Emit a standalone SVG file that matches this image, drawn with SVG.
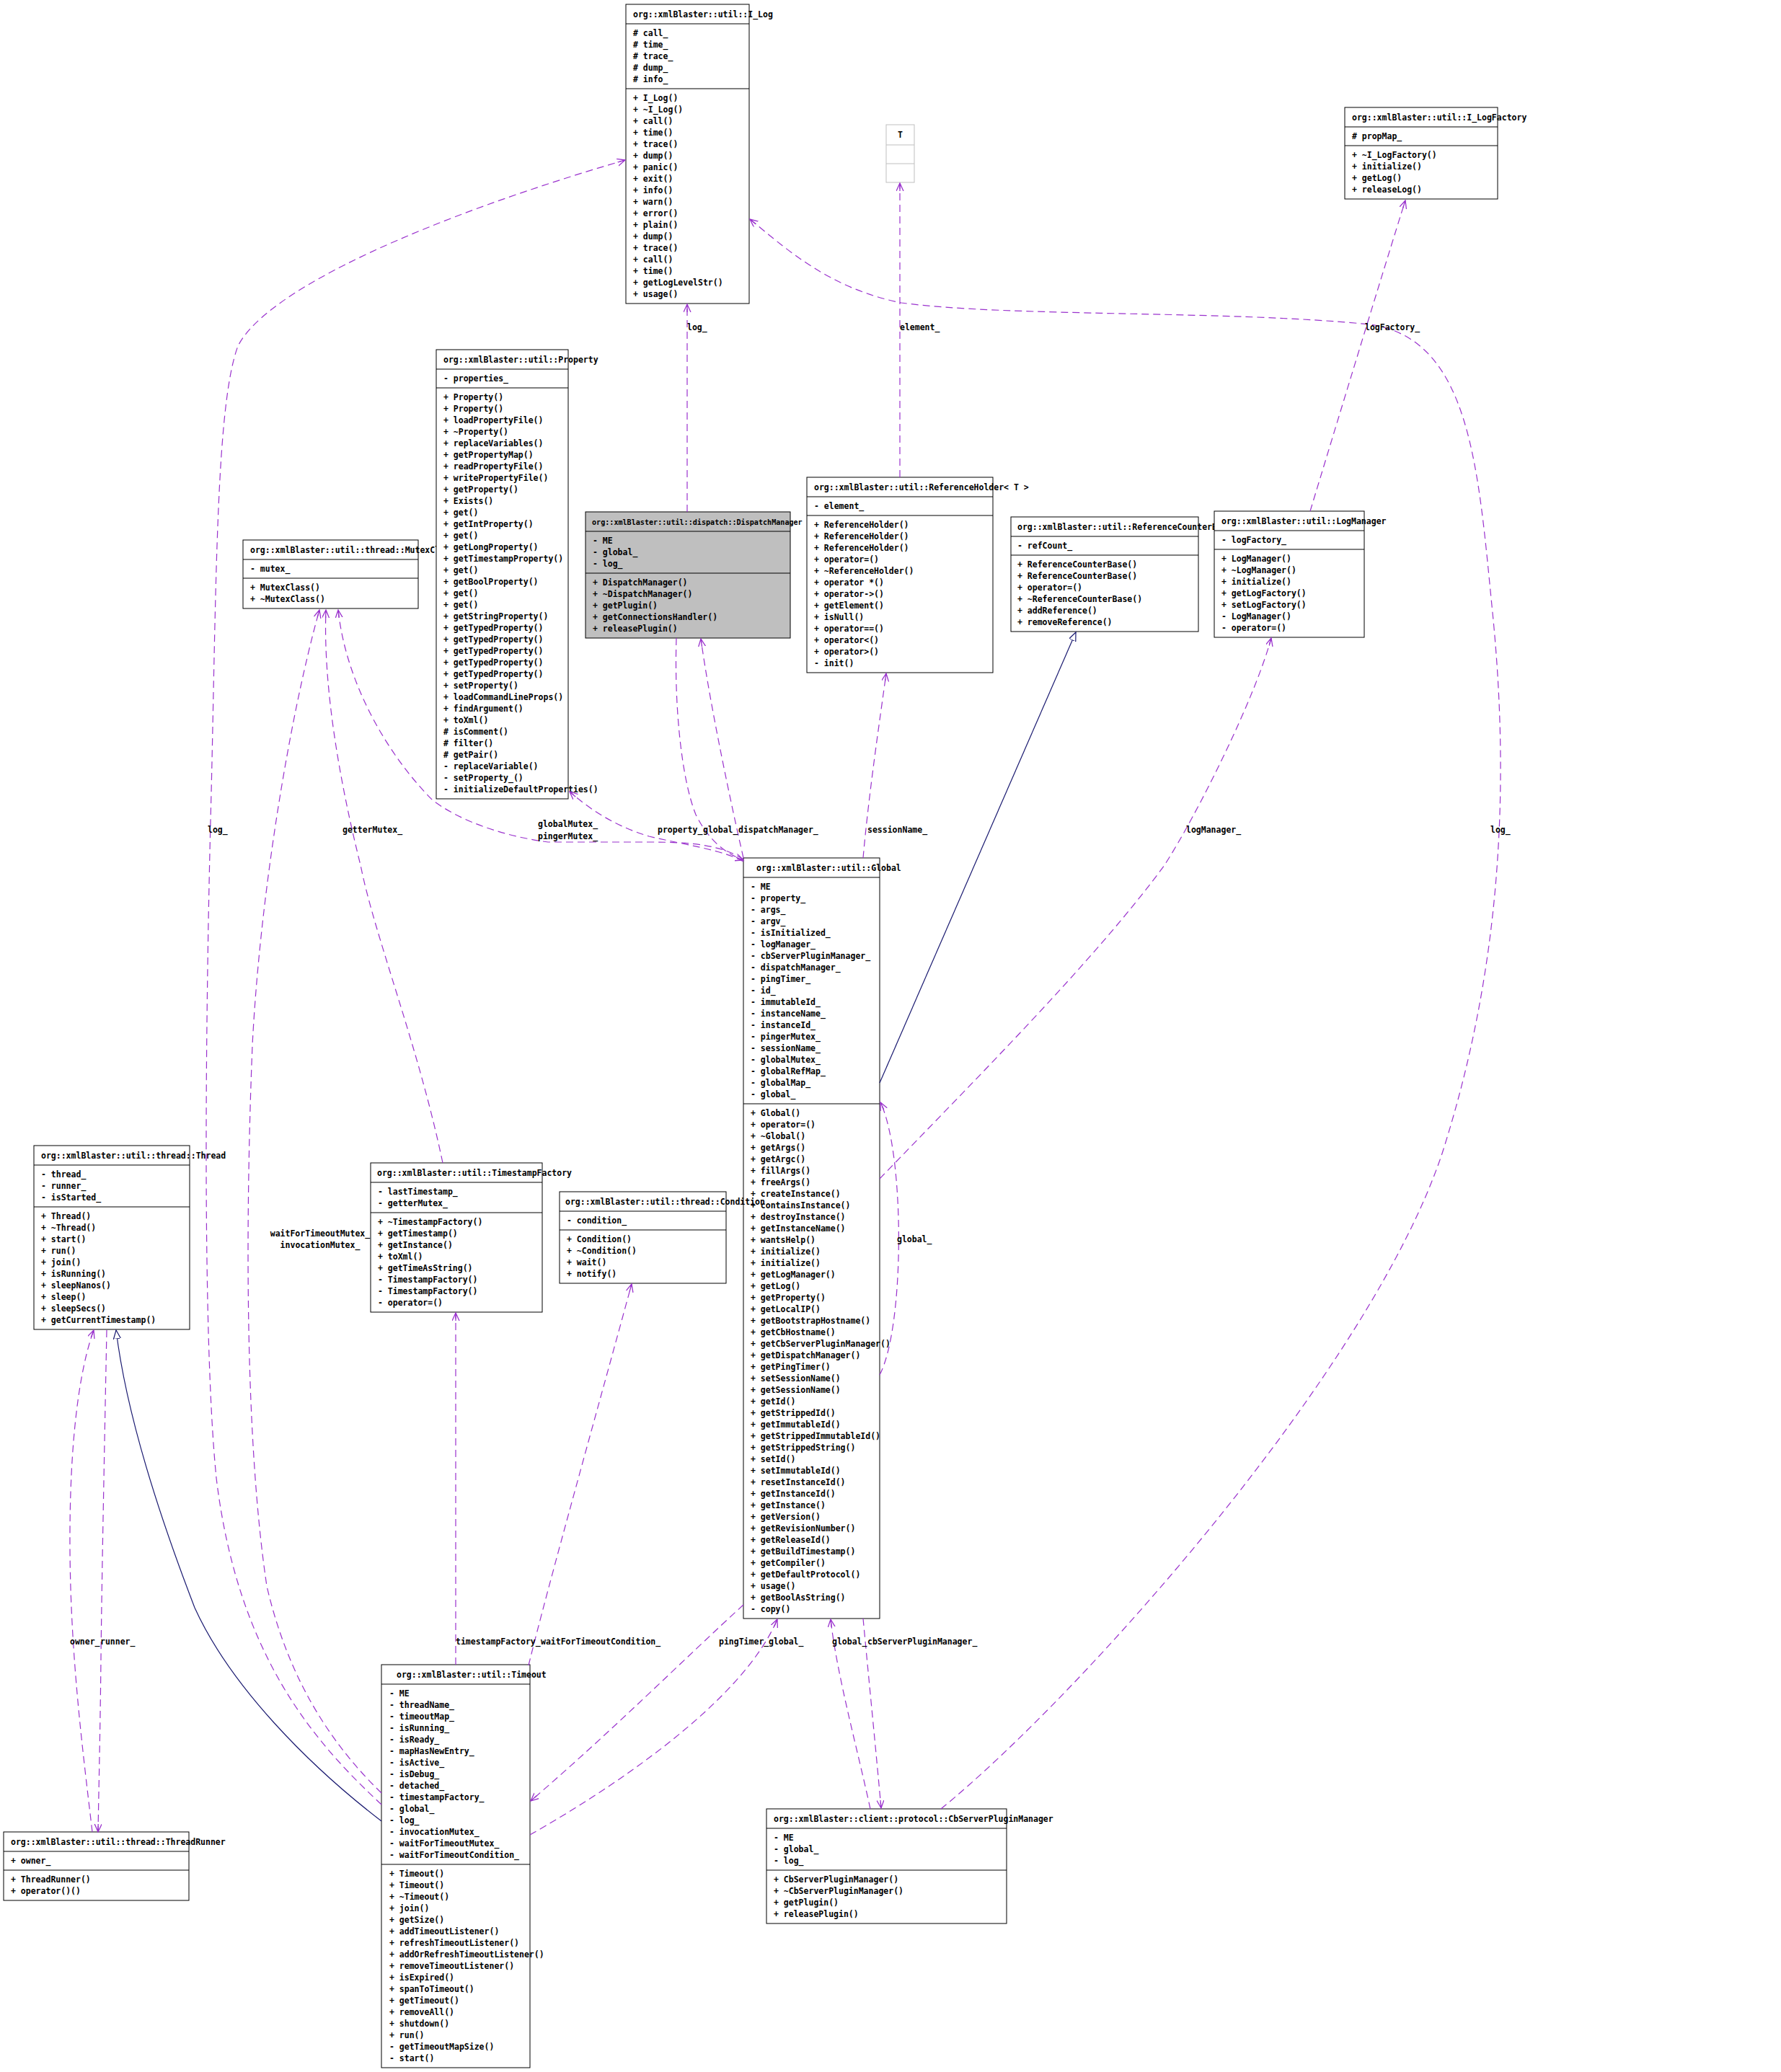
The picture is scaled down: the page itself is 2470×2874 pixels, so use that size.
<svg xmlns="http://www.w3.org/2000/svg" width="2470" height="2874" viewBox="0 0 2470 2874">
<style>
.box{fill:#fff;stroke:#000;stroke-width:1}
.gray{fill:#bfbfbf;stroke:#000;stroke-width:1}
.sep{stroke:#000;stroke-width:1}
.t{font-family:'DejaVu Sans Mono','Liberation Mono',monospace;font-size:11.5px;font-weight:bold;fill:#000}
.u{fill:none;stroke:#9a32cd;stroke-width:1.2;stroke-dasharray:10,6;marker-end:url(#vee)}
.inh{fill:none;stroke:#191970;stroke-width:1.2;marker-end:url(#tri)}
</style>
<defs>
<marker id="vee" markerUnits="userSpaceOnUse" markerWidth="14" markerHeight="12" refX="11" refY="5" orient="auto">
<path d="M0,0 L11,5 L0,10 M0,5 L11,5" fill="none" stroke="#9a32cd" stroke-width="1.3"/>
</marker>
<marker id="tri" markerUnits="userSpaceOnUse" markerWidth="14" markerHeight="12" refX="12" refY="5" orient="auto">
<path d="M0,0 L12,5 L0,10 Z" fill="#fff" stroke="#191970" stroke-width="1.2"/>
</marker>
</defs>
<rect width="2470" height="2874" fill="#fff"/>

<g id="nodes">
<g id="I_Log">
<rect class="box" x="868" y="6" width="171" height="415"/>
<line class="sep" x1="868" y1="33" x2="1039" y2="33"/><line class="sep" x1="868" y1="123" x2="1039" y2="123"/>
<text class="t" x="878" y="24">org::xmlBlaster::util::I_Log</text>
<text class="t" y="50"><tspan x="878"># call_</tspan><tspan x="878" dy="16"># time_</tspan><tspan x="878" dy="16"># trace_</tspan><tspan x="878" dy="16"># dump_</tspan><tspan x="878" dy="16"># info_</tspan></text>
<text class="t" y="140"><tspan x="878">+ I_Log()</tspan><tspan x="878" dy="16">+ ~I_Log()</tspan><tspan x="878" dy="16">+ call()</tspan><tspan x="878" dy="16">+ time()</tspan><tspan x="878" dy="16">+ trace()</tspan><tspan x="878" dy="16">+ dump()</tspan><tspan x="878" dy="16">+ panic()</tspan><tspan x="878" dy="16">+ exit()</tspan><tspan x="878" dy="16">+ info()</tspan><tspan x="878" dy="16">+ warn()</tspan><tspan x="878" dy="16">+ error()</tspan><tspan x="878" dy="16">+ plain()</tspan><tspan x="878" dy="16">+ dump()</tspan><tspan x="878" dy="16">+ trace()</tspan><tspan x="878" dy="16">+ call()</tspan><tspan x="878" dy="16">+ time()</tspan><tspan x="878" dy="16">+ getLogLevelStr()</tspan><tspan x="878" dy="16">+ usage()</tspan></text>
</g>

<g id="T">
<rect x="1229" y="173" width="39" height="80" fill="#fff" stroke="#bfbfbf"/>
<line x1="1229" y1="201" x2="1268" y2="201" stroke="#bfbfbf"/><line x1="1229" y1="227" x2="1268" y2="227" stroke="#bfbfbf"/>
<text class="t" x="1248.5" y="191" text-anchor="middle">T</text>
</g>

<g id="I_LogFactory">
<rect class="box" x="1865" y="149" width="212" height="127"/>
<line class="sep" x1="1865" y1="176" x2="2077" y2="176"/><line class="sep" x1="1865" y1="202" x2="2077" y2="202"/>
<text class="t" x="1875" y="167">org::xmlBlaster::util::I_LogFactory</text>
<text class="t" x="1875" y="193"># propMap_</text>
<text class="t" y="219"><tspan x="1875">+ ~I_LogFactory()</tspan><tspan x="1875" dy="16">+ initialize()</tspan><tspan x="1875" dy="16">+ getLog()</tspan><tspan x="1875" dy="16">+ releaseLog()</tspan></text>
</g>

<g id="MutexClass">
<rect class="box" x="337" y="749" width="243" height="95"/>
<line class="sep" x1="337" y1="776" x2="580" y2="776"/><line class="sep" x1="337" y1="802" x2="580" y2="802"/>
<text class="t" x="347" y="767">org::xmlBlaster::util::thread::MutexClass</text>
<text class="t" x="347" y="793">- mutex_</text>
<text class="t" y="819"><tspan x="347">+ MutexClass()</tspan><tspan x="347" dy="16">+ ~MutexClass()</tspan></text>
</g>

<g id="Property">
<rect class="box" x="605" y="485" width="183" height="623"/>
<line class="sep" x1="605" y1="512" x2="788" y2="512"/><line class="sep" x1="605" y1="538" x2="788" y2="538"/>
<text class="t" x="615" y="503">org::xmlBlaster::util::Property</text>
<text class="t" x="615" y="529">- properties_</text>
<text class="t" y="555"><tspan x="615">+ Property()</tspan><tspan x="615" dy="16">+ Property()</tspan><tspan x="615" dy="16">+ loadPropertyFile()</tspan><tspan x="615" dy="16">+ ~Property()</tspan><tspan x="615" dy="16">+ replaceVariables()</tspan><tspan x="615" dy="16">+ getPropertyMap()</tspan><tspan x="615" dy="16">+ readPropertyFile()</tspan><tspan x="615" dy="16">+ writePropertyFile()</tspan><tspan x="615" dy="16">+ getProperty()</tspan><tspan x="615" dy="16">+ Exists()</tspan><tspan x="615" dy="16">+ get()</tspan><tspan x="615" dy="16">+ getIntProperty()</tspan><tspan x="615" dy="16">+ get()</tspan><tspan x="615" dy="16">+ getLongProperty()</tspan><tspan x="615" dy="16">+ getTimestampProperty()</tspan><tspan x="615" dy="16">+ get()</tspan><tspan x="615" dy="16">+ getBoolProperty()</tspan><tspan x="615" dy="16">+ get()</tspan><tspan x="615" dy="16">+ get()</tspan><tspan x="615" dy="16">+ getStringProperty()</tspan><tspan x="615" dy="16">+ getTypedProperty()</tspan><tspan x="615" dy="16">+ getTypedProperty()</tspan><tspan x="615" dy="16">+ getTypedProperty()</tspan><tspan x="615" dy="16">+ getTypedProperty()</tspan><tspan x="615" dy="16">+ getTypedProperty()</tspan><tspan x="615" dy="16">+ setProperty()</tspan><tspan x="615" dy="16">+ loadCommandLineProps()</tspan><tspan x="615" dy="16">+ findArgument()</tspan><tspan x="615" dy="16">+ toXml()</tspan><tspan x="615" dy="16"># isComment()</tspan><tspan x="615" dy="16"># filter()</tspan><tspan x="615" dy="16"># getPair()</tspan><tspan x="615" dy="16">- replaceVariable()</tspan><tspan x="615" dy="16">- setProperty_()</tspan><tspan x="615" dy="16">- initializeDefaultProperties()</tspan></text>
</g>

<g id="DispatchManager">
<rect class="gray" x="812" y="710" width="284" height="175"/>
<line class="sep" x1="812" y1="737" x2="1096" y2="737"/><line class="sep" x1="812" y1="795" x2="1096" y2="795"/>
<text class="t" x="821" y="728" style="font-size:10.1px">org::xmlBlaster::util::dispatch::DispatchManager</text>
<text class="t" y="754"><tspan x="822">- ME</tspan><tspan x="822" dy="16">- global_</tspan><tspan x="822" dy="16">- log_</tspan></text>
<text class="t" y="812"><tspan x="822">+ DispatchManager()</tspan><tspan x="822" dy="16">+ ~DispatchManager()</tspan><tspan x="822" dy="16">+ getPlugin()</tspan><tspan x="822" dy="16">+ getConnectionsHandler()</tspan><tspan x="822" dy="16">+ releasePlugin()</tspan></text>
</g>

<g id="ReferenceHolder">
<rect class="box" x="1119" y="662" width="258" height="271"/>
<line class="sep" x1="1119" y1="689" x2="1377" y2="689"/><line class="sep" x1="1119" y1="715" x2="1377" y2="715"/>
<text class="t" x="1129" y="680">org::xmlBlaster::util::ReferenceHolder&lt; T &gt;</text>
<text class="t" x="1129" y="706">- element_</text>
<text class="t" y="732"><tspan x="1129">+ ReferenceHolder()</tspan><tspan x="1129" dy="16">+ ReferenceHolder()</tspan><tspan x="1129" dy="16">+ ReferenceHolder()</tspan><tspan x="1129" dy="16">+ operator=()</tspan><tspan x="1129" dy="16">+ ~ReferenceHolder()</tspan><tspan x="1129" dy="16">+ operator *()</tspan><tspan x="1129" dy="16">+ operator-&gt;()</tspan><tspan x="1129" dy="16">+ getElement()</tspan><tspan x="1129" dy="16">+ isNull()</tspan><tspan x="1129" dy="16">+ operator==()</tspan><tspan x="1129" dy="16">+ operator&lt;()</tspan><tspan x="1129" dy="16">+ operator&gt;()</tspan><tspan x="1129" dy="16">- init()</tspan></text>
</g>

<g id="ReferenceCounterBase">
<rect class="box" x="1402" y="717" width="260" height="159"/>
<line class="sep" x1="1402" y1="744" x2="1662" y2="744"/><line class="sep" x1="1402" y1="770" x2="1662" y2="770"/>
<text class="t" x="1411" y="735">org::xmlBlaster::util::ReferenceCounterBase</text>
<text class="t" x="1411" y="761">- refCount_</text>
<text class="t" y="787"><tspan x="1411">+ ReferenceCounterBase()</tspan><tspan x="1411" dy="16">+ ReferenceCounterBase()</tspan><tspan x="1411" dy="16">+ operator=()</tspan><tspan x="1411" dy="16">+ ~ReferenceCounterBase()</tspan><tspan x="1411" dy="16">+ addReference()</tspan><tspan x="1411" dy="16">+ removeReference()</tspan></text>
</g>

<g id="LogManager">
<rect class="box" x="1684" y="709" width="208" height="175"/>
<line class="sep" x1="1684" y1="736" x2="1892" y2="736"/><line class="sep" x1="1684" y1="762" x2="1892" y2="762"/>
<text class="t" x="1694" y="727">org::xmlBlaster::util::LogManager</text>
<text class="t" x="1694" y="753">- logFactory_</text>
<text class="t" y="779"><tspan x="1694">+ LogManager()</tspan><tspan x="1694" dy="16">+ ~LogManager()</tspan><tspan x="1694" dy="16">+ initialize()</tspan><tspan x="1694" dy="16">+ getLogFactory()</tspan><tspan x="1694" dy="16">+ setLogFactory()</tspan><tspan x="1694" dy="16">- LogManager()</tspan><tspan x="1694" dy="16">- operator=()</tspan></text>
</g>

<g id="Global">
<rect class="box" x="1031" y="1190" width="189" height="1055"/>
<line class="sep" x1="1031" y1="1217" x2="1220" y2="1217"/><line class="sep" x1="1031" y1="1531" x2="1220" y2="1531"/>
<text class="t" x="1049" y="1208">org::xmlBlaster::util::Global</text>
<text class="t" y="1234"><tspan x="1041">- ME</tspan><tspan x="1041" dy="16">- property_</tspan><tspan x="1041" dy="16">- args_</tspan><tspan x="1041" dy="16">- argv_</tspan><tspan x="1041" dy="16">- isInitialized_</tspan><tspan x="1041" dy="16">- logManager_</tspan><tspan x="1041" dy="16">- cbServerPluginManager_</tspan><tspan x="1041" dy="16">- dispatchManager_</tspan><tspan x="1041" dy="16">- pingTimer_</tspan><tspan x="1041" dy="16">- id_</tspan><tspan x="1041" dy="16">- immutableId_</tspan><tspan x="1041" dy="16">- instanceName_</tspan><tspan x="1041" dy="16">- instanceId_</tspan><tspan x="1041" dy="16">- pingerMutex_</tspan><tspan x="1041" dy="16">- sessionName_</tspan><tspan x="1041" dy="16">- globalMutex_</tspan><tspan x="1041" dy="16">- globalRefMap_</tspan><tspan x="1041" dy="16">- globalMap_</tspan><tspan x="1041" dy="16">- global_</tspan></text>
<text class="t" y="1548"><tspan x="1041">+ Global()</tspan><tspan x="1041" dy="16">+ operator=()</tspan><tspan x="1041" dy="16">+ ~Global()</tspan><tspan x="1041" dy="16">+ getArgs()</tspan><tspan x="1041" dy="16">+ getArgc()</tspan><tspan x="1041" dy="16">+ fillArgs()</tspan><tspan x="1041" dy="16">+ freeArgs()</tspan><tspan x="1041" dy="16">+ createInstance()</tspan><tspan x="1041" dy="16">+ containsInstance()</tspan><tspan x="1041" dy="16">+ destroyInstance()</tspan><tspan x="1041" dy="16">+ getInstanceName()</tspan><tspan x="1041" dy="16">+ wantsHelp()</tspan><tspan x="1041" dy="16">+ initialize()</tspan><tspan x="1041" dy="16">+ initialize()</tspan><tspan x="1041" dy="16">+ getLogManager()</tspan><tspan x="1041" dy="16">+ getLog()</tspan><tspan x="1041" dy="16">+ getProperty()</tspan><tspan x="1041" dy="16">+ getLocalIP()</tspan><tspan x="1041" dy="16">+ getBootstrapHostname()</tspan><tspan x="1041" dy="16">+ getCbHostname()</tspan><tspan x="1041" dy="16">+ getCbServerPluginManager()</tspan><tspan x="1041" dy="16">+ getDispatchManager()</tspan><tspan x="1041" dy="16">+ getPingTimer()</tspan><tspan x="1041" dy="16">+ setSessionName()</tspan><tspan x="1041" dy="16">+ getSessionName()</tspan><tspan x="1041" dy="16">+ getId()</tspan><tspan x="1041" dy="16">+ getStrippedId()</tspan><tspan x="1041" dy="16">+ getImmutableId()</tspan><tspan x="1041" dy="16">+ getStrippedImmutableId()</tspan><tspan x="1041" dy="16">+ getStrippedString()</tspan><tspan x="1041" dy="16">+ setId()</tspan><tspan x="1041" dy="16">+ setImmutableId()</tspan><tspan x="1041" dy="16">+ resetInstanceId()</tspan><tspan x="1041" dy="16">+ getInstanceId()</tspan><tspan x="1041" dy="16">+ getInstance()</tspan><tspan x="1041" dy="16">+ getVersion()</tspan><tspan x="1041" dy="16">+ getRevisionNumber()</tspan><tspan x="1041" dy="16">+ getReleaseId()</tspan><tspan x="1041" dy="16">+ getBuildTimestamp()</tspan><tspan x="1041" dy="16">+ getCompiler()</tspan><tspan x="1041" dy="16">+ getDefaultProtocol()</tspan><tspan x="1041" dy="16">+ usage()</tspan><tspan x="1041" dy="16">+ getBoolAsString()</tspan><tspan x="1041" dy="16">- copy()</tspan></text>
</g>

<g id="Thread">
<rect class="box" x="47" y="1589" width="216" height="255"/>
<line class="sep" x1="47" y1="1616" x2="263" y2="1616"/><line class="sep" x1="47" y1="1674" x2="263" y2="1674"/>
<text class="t" x="57" y="1607">org::xmlBlaster::util::thread::Thread</text>
<text class="t" y="1633"><tspan x="57">- thread_</tspan><tspan x="57" dy="16">- runner_</tspan><tspan x="57" dy="16">- isStarted_</tspan></text>
<text class="t" y="1691"><tspan x="57">+ Thread()</tspan><tspan x="57" dy="16">+ ~Thread()</tspan><tspan x="57" dy="16">+ start()</tspan><tspan x="57" dy="16">+ run()</tspan><tspan x="57" dy="16">+ join()</tspan><tspan x="57" dy="16">+ isRunning()</tspan><tspan x="57" dy="16">+ sleepNanos()</tspan><tspan x="57" dy="16">+ sleep()</tspan><tspan x="57" dy="16">+ sleepSecs()</tspan><tspan x="57" dy="16">+ getCurrentTimestamp()</tspan></text>
</g>

<g id="TimestampFactory">
<rect class="box" x="514" y="1613" width="238" height="207"/>
<line class="sep" x1="514" y1="1640" x2="752" y2="1640"/><line class="sep" x1="514" y1="1682" x2="752" y2="1682"/>
<text class="t" x="523" y="1631">org::xmlBlaster::util::TimestampFactory</text>
<text class="t" y="1657"><tspan x="524">- lastTimestamp_</tspan><tspan x="524" dy="16">- getterMutex_</tspan></text>
<text class="t" y="1699"><tspan x="524">+ ~TimestampFactory()</tspan><tspan x="524" dy="16">+ getTimestamp()</tspan><tspan x="524" dy="16">+ getInstance()</tspan><tspan x="524" dy="16">+ toXml()</tspan><tspan x="524" dy="16">+ getTimeAsString()</tspan><tspan x="524" dy="16">- TimestampFactory()</tspan><tspan x="524" dy="16">- TimestampFactory()</tspan><tspan x="524" dy="16">- operator=()</tspan></text>
</g>

<g id="Condition">
<rect class="box" x="776" y="1653" width="231" height="127"/>
<line class="sep" x1="776" y1="1680" x2="1007" y2="1680"/><line class="sep" x1="776" y1="1706" x2="1007" y2="1706"/>
<text class="t" x="784" y="1671">org::xmlBlaster::util::thread::Condition</text>
<text class="t" x="786" y="1697">- condition_</text>
<text class="t" y="1723"><tspan x="786">+ Condition()</tspan><tspan x="786" dy="16">+ ~Condition()</tspan><tspan x="786" dy="16">+ wait()</tspan><tspan x="786" dy="16">+ notify()</tspan></text>
</g>

<g id="ThreadRunner">
<rect class="box" x="5" y="2541" width="257" height="95"/>
<line class="sep" x1="5" y1="2568" x2="262" y2="2568"/><line class="sep" x1="5" y1="2594" x2="262" y2="2594"/>
<text class="t" x="15" y="2559">org::xmlBlaster::util::thread::ThreadRunner</text>
<text class="t" x="15" y="2585">+ owner_</text>
<text class="t" y="2611"><tspan x="15">+ ThreadRunner()</tspan><tspan x="15" dy="16">+ operator()()</tspan></text>
</g>

<g id="Timeout">
<rect class="box" x="529" y="2309" width="206" height="559"/>
<line class="sep" x1="529" y1="2336" x2="735" y2="2336"/><line class="sep" x1="529" y1="2586" x2="735" y2="2586"/>
<text class="t" x="550" y="2327">org::xmlBlaster::util::Timeout</text>
<text class="t" y="2353"><tspan x="540">- ME</tspan><tspan x="540" dy="16">- threadName_</tspan><tspan x="540" dy="16">- timeoutMap_</tspan><tspan x="540" dy="16">- isRunning_</tspan><tspan x="540" dy="16">- isReady_</tspan><tspan x="540" dy="16">- mapHasNewEntry_</tspan><tspan x="540" dy="16">- isActive_</tspan><tspan x="540" dy="16">- isDebug_</tspan><tspan x="540" dy="16">- detached_</tspan><tspan x="540" dy="16">- timestampFactory_</tspan><tspan x="540" dy="16">- global_</tspan><tspan x="540" dy="16">- log_</tspan><tspan x="540" dy="16">- invocationMutex_</tspan><tspan x="540" dy="16">- waitForTimeoutMutex_</tspan><tspan x="540" dy="16">- waitForTimeoutCondition_</tspan></text>
<text class="t" y="2603"><tspan x="540">+ Timeout()</tspan><tspan x="540" dy="16">+ Timeout()</tspan><tspan x="540" dy="16">+ ~Timeout()</tspan><tspan x="540" dy="16">+ join()</tspan><tspan x="540" dy="16">+ getSize()</tspan><tspan x="540" dy="16">+ addTimeoutListener()</tspan><tspan x="540" dy="16">+ refreshTimeoutListener()</tspan><tspan x="540" dy="16">+ addOrRefreshTimeoutListener()</tspan><tspan x="540" dy="16">+ removeTimeoutListener()</tspan><tspan x="540" dy="16">+ isExpired()</tspan><tspan x="540" dy="16">+ spanToTimeout()</tspan><tspan x="540" dy="16">+ getTimeout()</tspan><tspan x="540" dy="16">+ removeAll()</tspan><tspan x="540" dy="16">+ shutdown()</tspan><tspan x="540" dy="16">+ run()</tspan><tspan x="540" dy="16">- getTimeoutMapSize()</tspan><tspan x="540" dy="16">- start()</tspan></text>
</g>

<g id="CbServerPluginManager">
<rect class="box" x="1063" y="2509" width="333" height="159"/>
<line class="sep" x1="1063" y1="2536" x2="1396" y2="2536"/><line class="sep" x1="1063" y1="2594" x2="1396" y2="2594"/>
<text class="t" x="1073" y="2527">org::xmlBlaster::client::protocol::CbServerPluginManager</text>
<text class="t" y="2553"><tspan x="1073">- ME</tspan><tspan x="1073" dy="16">- global_</tspan><tspan x="1073" dy="16">- log_</tspan></text>
<text class="t" y="2611"><tspan x="1073">+ CbServerPluginManager()</tspan><tspan x="1073" dy="16">+ ~CbServerPluginManager()</tspan><tspan x="1073" dy="16">+ getPlugin()</tspan><tspan x="1073" dy="16">+ releasePlugin()</tspan></text>
</g>
</g>

<g id="connectors">
<path class="u" d="M953,710 L953,422"/>
<path class="u" d="M1248,662 L1248,254"/>
<path class="u" d="M1817,709 C1850,600 1920,370 1949,278"/>
<path class="u" d="M1305,2509 C1500,2350 1900,1900 2000,1600 C2080,1350 2095,1100 2070,850 C2050,650 2040,470 1900,450 C1700,430 1400,440 1250,420 C1150,400 1090,345 1040,304"/>
<path class="u" d="M529,2503 C440,2420 330,2300 300,2050 C280,1850 285,1400 293,1100 C300,800 300,560 330,480 C370,400 600,300 867,222"/>
<path class="u" d="M614,1613 C580,1450 520,1300 500,1200 C470,1080 448,950 452,846"/>
<path class="u" d="M529,2487 C460,2420 400,2330 370,2200 C340,2000 340,1700 350,1450 C360,1250 400,1000 443,846"/>
<path class="u" d="M1031,1192 C1000,1172 960,1168 900,1168 L760,1168 C700,1160 640,1140 600,1110 C540,1050 480,950 469,846"/>
<path class="u" d="M1031,1195 C1000,1178 950,1172 900,1160 C850,1145 815,1120 790,1098"/>
<path class="u" d="M938,885 C935,980 945,1080 965,1130 C985,1170 1010,1185 1031,1193"/>
<path class="u" d="M1031,1190 C1015,1120 985,980 972,886"/>
<path class="u" d="M1197,1190 C1205,1100 1220,1000 1229,934"/>
<path class="inh" d="M1220,1502 L1492,877"/>
<path class="u" d="M1220,1635 C1350,1500 1520,1330 1615,1200 C1660,1130 1740,970 1763,885"/>
<path class="u" d="M1220,1907 C1255,1840 1255,1600 1221,1529"/>
<path class="u" d="M1197,2245 C1205,2330 1215,2430 1222,2508"/>
<path class="u" d="M1207,2509 C1190,2430 1160,2320 1152,2246"/>
<path class="u" d="M1031,2226 C950,2300 850,2400 736,2498"/>
<path class="u" d="M735,2545 C850,2480 1030,2360 1078,2246"/>
<path class="u" d="M632,2309 L632,1821"/>
<path class="u" d="M733,2310 C760,2200 830,1950 876,1781"/>
<path class="inh" d="M529,2526 C430,2450 320,2340 270,2230 C220,2100 175,1960 161,1845"/>
<path class="u" d="M128,2541 C115,2430 98,2300 97,2150 C96,2000 110,1900 130,1845"/>
<path class="u" d="M148,1845 C145,2000 141,2200 140,2300 C139,2400 137,2480 136,2541"/>
<g class="t">
<text x="953" y="458">log_</text>
<text x="1248" y="458">element_</text>
<text x="1893" y="458">logFactory_</text>
<text x="2067" y="1155">log_</text>
<text x="288" y="1155">log_</text>
<text x="475" y="1155">getterMutex_</text>
<text x="746" y="1147">globalMutex_</text>
<text x="746" y="1164">pingerMutex_</text>
<text x="912" y="1155">property_</text>
<text x="975" y="1155">global_</text>
<text x="1024" y="1155">dispatchManager_</text>
<text x="1203" y="1155">sessionName_</text>
<text x="1645" y="1155">logManager_</text>
<text x="1244" y="1723">global_</text>
<text x="444" y="1715" text-anchor="middle">waitForTimeoutMutex_</text>
<text x="444" y="1731" text-anchor="middle">invocationMutex_</text>
<text x="97" y="2281">owner_</text>
<text x="139" y="2281">runner_</text>
<text x="632" y="2281">timestampFactory_</text>
<text x="750" y="2281">waitForTimeoutCondition_</text>
<text x="997" y="2281">pingTimer_</text>
<text x="1066" y="2281">global_</text>
<text x="1154" y="2281">global_</text>
<text x="1203" y="2281">cbServerPluginManager_</text>
</g>
</g>
</svg>
